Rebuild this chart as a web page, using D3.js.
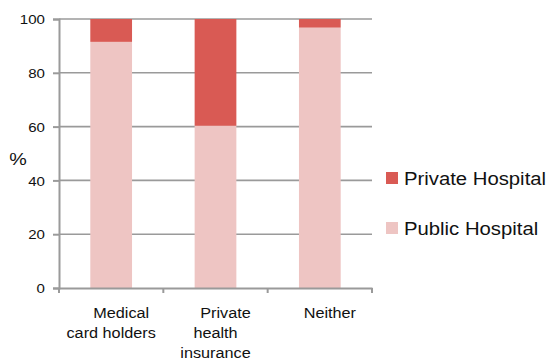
<!DOCTYPE html>
<html><head><meta charset="utf-8">
<script src="https://cdn.jsdelivr.net/npm/d3@7"></script>
<style>body{margin:0;background:#fff}svg{display:block}text{font-family:"Liberation Sans",Arial,sans-serif;fill:#111}</style>
</head><body><svg id="c" width="546" height="360"></svg>
<script>
const categories = ["Medical card holders", "Private health insurance", "Neither"];
const categoryLines = [["Medical", "card holders"], ["Private", "health", "insurance"], ["Neither"]];
const publicHospital = [91.5, 60.3, 96.8];
const privateHospital = [8.5, 39.7, 3.2];
const seriesNames = ["Private Hospital", "Public Hospital"];
const yTicks = [0, 20, 40, 60, 80, 100];

(function () {
const colors = {"Private Hospital": "#d95a54", "Public Hospital": "#eec5c3"};
const svg = d3.select("#c");
const mLeft = 59, mRight = 372, mTop = 19, mBottom = 288;
const SX = 1.16;

const x = d3.scaleBand().domain(categories).range([mLeft, mRight]).padding(0);
const y = d3.scaleLinear().domain([0, 100]).range([mBottom, mTop]);

// gridlines
svg.append("g").selectAll("line").data(yTicks.filter(d => d > 0)).join("line")
  .attr("x1", mLeft).attr("x2", mRight).attr("y1", d => y(d)).attr("y2", d => y(d))
  .attr("stroke", "#9a9a9a").attr("stroke-width", 1.6);

// bars
const rows = categories.map((c, i) => ({cat: c, "Public Hospital": publicHospital[i], "Private Hospital": privateHospital[i]}));
const stack = d3.stack().keys(["Public Hospital", "Private Hospital"])(rows);
const bw = x.bandwidth() * 0.4;
svg.append("g").selectAll("g").data(stack).join("g").attr("fill", s => colors[s.key])
  .selectAll("rect").data(s => s).join("rect")
  .attr("x", d => x(d.data.cat) + (x.bandwidth() - bw) / 2)
  .attr("width", bw)
  .attr("y", d => y(d[1]))
  .attr("height", d => y(d[0]) - y(d[1]));

// y axis
const yAx = svg.append("g").attr("transform", `translate(${mLeft},0)`)
  .call(d3.axisLeft(y).tickValues(yTicks).tickSize(6).tickPadding(0).tickFormat(d3.format("d")));
yAx.select(".domain").attr("stroke", "#9a9a9a").attr("stroke-width", 2);
yAx.selectAll(".tick line").attr("stroke", "#9a9a9a").attr("stroke-width", 2);
yAx.selectAll(".tick text").attr("x", null).attr("dy", null).attr("fill", "#111")
  .attr("font-size", 13).attr("text-anchor", "end").attr("dominant-baseline", "central")
  .attr("font-family", "Liberation Sans, Arial, sans-serif")
  .attr("transform", `translate(-14,0) scale(${SX},1)`);

// x axis
const xAx = svg.append("g").attr("transform", `translate(0,${mBottom})`)
  .call(d3.axisBottom(x).tickSize(0).tickFormat(""));
xAx.select(".domain").attr("stroke", "#9a9a9a").attr("stroke-width", 2);
xAx.selectAll(".tick").remove();
const bounds = categories.map(c => x(c)).concat([x(categories[categories.length - 1]) + x.bandwidth()]);
xAx.append("g").selectAll("line").data(bounds).join("line")
  .attr("x1", d => d).attr("x2", d => d).attr("y1", 0).attr("y2", 5)
  .attr("stroke", "#9a9a9a").attr("stroke-width", 2);

// category labels
categories.forEach((c, i) => {
  const cx = x(c) + x.bandwidth() / 2;
  categoryLines[i].forEach((ln, j) => {
    svg.append("text").text(ln).attr("font-size", 14).attr("text-anchor", "middle")
      .attr("transform", `translate(${cx + (j === 0 ? 10 : 0)},${318 + j * 20}) scale(${SX},1)`);
  });
});

// y title
svg.append("text").text("%").attr("font-size", 17).attr("text-anchor", "middle")
  .attr("transform", `translate(18,165) scale(${SX},1)`);

// legend
const lg = svg.append("g").selectAll("g").data(seriesNames).join("g")
  .attr("transform", (d, i) => `translate(386,${172 + i * 50})`);
lg.append("rect").attr("width", 12).attr("height", 12).attr("fill", d => colors[d]);
lg.append("text").text(d => d).attr("font-size", 17.5)
  .attr("transform", `translate(18,12.5) scale(${SX},1)`);
})();
</script></body></html>
